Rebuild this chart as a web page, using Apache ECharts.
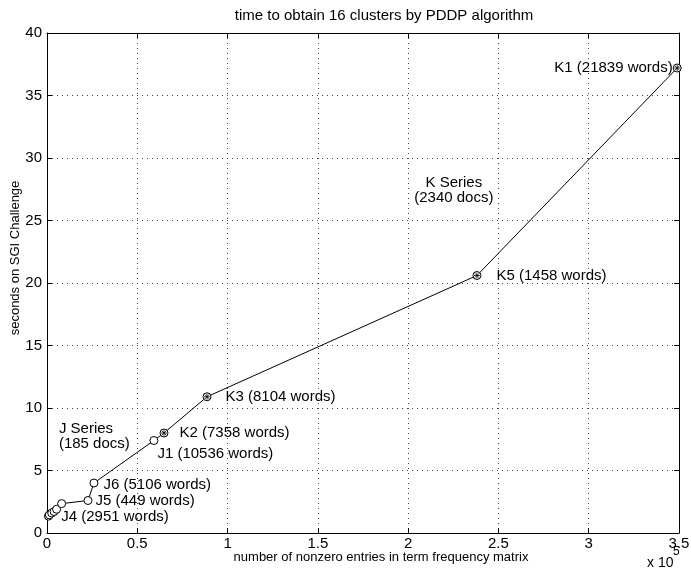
<!DOCTYPE html>
<html>
<head>
<meta charset="utf-8">
<script src="https://cdn.jsdelivr.net/npm/echarts@6/dist/echarts.min.js"></script>
<style>
  html, body { margin: 0; padding: 0; background: #fff; }
  #chart { width: 691px; height: 575px; }
</style>
</head>
<body>
<div id="chart"></div>
<script>
// data (nnz entries, seconds)
const nnzEntries = [800, 1300, 2600, 3900, 5300, 8100, 22700, 26000, 59200, 64800, 88600, 238100, 349000]
const seconds = [1.35, 1.45, 1.6, 1.72, 1.9, 2.35, 2.6, 4.0, 7.4, 8.0, 10.9, 20.6, 37.2]
const seriesOf = ['J', 'J', 'J', 'J', 'J', 'J', 'J', 'J', 'J', 'K', 'K', 'K', 'K']
const pointLabels = ['', '', 'J4 (2951 words)', '', '', '', 'J5 (449 words)', 'J6 (5106 words)',
  'J1 (10536 words)', 'K2 (7358 words)', 'K3 (8104 words)', 'K5 (1458 words)', 'K1 (21839 words)']
const xTicks = [0, 0.5, 1, 1.5, 2, 2.5, 3, 3.5]
const yTicks = [0, 5, 10, 15, 20, 25, 30, 35, 40]
const notes = [
  { text: 'J Series\n(185 docs)', at: [6600, 7.7], align: 'left' },
  { text: 'K Series\n(2340 docs)', at: [225300, 27.45], align: 'center' }
]

const font = '"Liberation Sans", Arial, sans-serif'
const ink = '#000'

// where each label sits relative to its marker
const labelPlace = {
  'J4 (2951 words)': { position: 'right', distance: 5, offset: [0, 4] },
  'J5 (449 words)': { position: 'right', distance: 3 },
  'J6 (5106 words)': { position: 'right', distance: 5, offset: [0, 2] },
  'J1 (10536 words)': { position: 'right', distance: 0, offset: [-1, 13] },
  'K2 (7358 words)': { position: 'right', distance: 11 },
  'K3 (8104 words)': { position: 'right', distance: 14 },
  'K5 (1458 words)': { position: 'right', distance: 15 },
  'K1 (21839 words)': { position: 'left', distance: 0 }
}

const points = nnzEntries.map((x, i) => {
  const name = pointLabels[i]
  const item = { value: [x, seconds[i]] }
  if (name) {
    item.label = Object.assign({ show: true, formatter: name }, labelPlace[name])
  }
  return item
})

const kStars = nnzEntries
  .map((x, i) => [x, seconds[i], seriesOf[i]])
  .filter(p => p[2] === 'K')
  .map(p => [p[0], p[1]])

const chart = echarts.init(document.getElementById('chart'))

const axisCommon = {
  axisLine: { show: true, onZero: false, lineStyle: { color: ink, width: 1 } },
  axisTick: { show: true, inside: true, length: 5, lineStyle: { color: ink } }
}
const gridDots = { show: true, lineStyle: { color: '#444', type: [1, 4], width: 1 } }

chart.setOption({
  animation: false,
  backgroundColor: '#fff',
  textStyle: { fontFamily: font },
  title: {
    text: 'time to obtain 16 clusters by PDDP algorithm',
    left: 379,
    top: 3,
    textAlign: 'center',
    textStyle: { fontFamily: font, fontSize: 15, fontWeight: 'normal', color: ink }
  },
  grid: { left: 47, right: 12, top: 33, bottom: 42, outerBoundsMode: 'none' },
  xAxis: [
    Object.assign({
      type: 'value',
      min: 0,
      max: 350000,
      interval: 50000,
      position: 'bottom',
      axisLabel: {
        color: ink, fontSize: 15, fontFamily: font, margin: 3,
        formatter: v => String(xTicks[Math.round(v / 50000)])
      },
      splitLine: gridDots
    }, axisCommon),
    Object.assign({
      type: 'value', min: 0, max: 350000, interval: 50000, position: 'top',
      axisLabel: { show: false }, splitLine: { show: false }
    }, axisCommon)
  ],
  yAxis: [
    Object.assign({
      type: 'value',
      min: 0,
      max: 40,
      interval: 5,
      position: 'left',
      axisLabel: {
        color: ink, fontSize: 15, fontFamily: font, margin: 5,
        formatter: v => String(yTicks[Math.round(v / 5)])
      },
      splitLine: gridDots
    }, axisCommon),
    Object.assign({
      type: 'value', min: 0, max: 40, interval: 5, position: 'right',
      axisLabel: { show: false }, splitLine: { show: false }
    }, axisCommon)
  ],
  series: [
    {
      type: 'line',
      data: points,
      symbol: 'circle',
      symbolSize: 8,
      showAllSymbol: true,
      lineStyle: { color: ink, width: 1 },
      itemStyle: { color: '#fff', borderColor: ink, borderWidth: 1 },
      label: { color: ink, fontSize: 15, fontFamily: font },
      emphasis: { disabled: true },
      z: 3
    },
    {
      type: 'scatter',
      data: kStars,
      symbol: 'path://M0,-4L0,4M-4,0L4,0M-3,-3L3,3M-3,3L3,-3',
      symbolSize: 6,
      itemStyle: { color: 'none', borderColor: ink, borderWidth: 1 },
      emphasis: { disabled: true },
      z: 4
    },
    {
      type: 'scatter',
      data: notes.map(n => ({
        value: n.at,
        label: {
          show: true, position: 'inside', formatter: n.text, align: n.align,
          lineHeight: 15, color: ink, opacity: 1, fontSize: 15, fontFamily: font
        }
      })),
      symbolSize: 0,
      itemStyle: { color: '#fff', opacity: 1 },
      emphasis: { disabled: true },
      silent: true,
      z: 5
    }
  ],
  graphic: [
    {
      type: 'text',
      x: 381,
      y: 557,
      style: {
        text: 'number of nonzero entries in term frequency matrix',
        fill: ink, font: '13px ' + font, align: 'center', verticalAlign: 'middle'
      }
    },
    {
      type: 'text',
      x: 15,
      y: 258,
      rotation: Math.PI / 2,
      style: {
        text: 'seconds on SGI Challenge',
        fill: ink, font: '13px ' + font, align: 'center', verticalAlign: 'middle'
      }
    },
    {
      type: 'text',
      x: 647,
      y: 563,
      style: { text: 'x 10', fill: ink, font: '14px ' + font, verticalAlign: 'middle' }
    },
    {
      type: 'text',
      x: 673,
      y: 552,
      style: { text: '5', fill: ink, font: '12px ' + font, verticalAlign: 'middle' }
    }
  ]
})
</script>
</body>
</html>
